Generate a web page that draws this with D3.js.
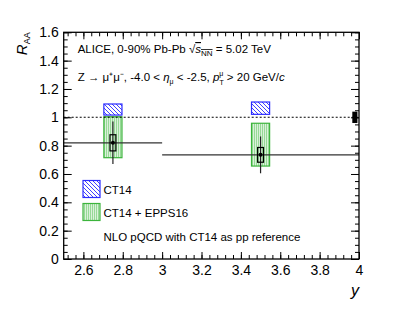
<!DOCTYPE html>
<html>
<head>
<meta charset="utf-8">
<script src="https://cdn.jsdelivr.net/npm/d3@7"></script>
<style>
  body { margin: 0; background: #fff; }
  svg { font-family: "Liberation Sans", Arial, sans-serif; }
</style>
</head>
<body>
<div id="chart"></div>
<script>
// data
var rapCenter = [2.75, 3.5];
var rapLow = [2.5, 3.0];
var rapHigh = [3.0, 4.0];
var raa = [0.82, 0.735];
var statErr = [0.15, 0.13];
var systErr = [0.057, 0.052];
var ct14Low = [1.016, 1.021];
var ct14High = [1.094, 1.108];
var eppsLow = [0.715, 0.656];
var eppsHigh = [1.004, 0.958];
var globalErr = 0.04;
var xTicks = [2.6, 2.8, 3, 3.2, 3.4, 3.6, 3.8, 4];
var yTicks = [0, 0.2, 0.4, 0.6, 0.8, 1, 1.2, 1.4, 1.6];

var width = 399, height = 309;
var svg = d3.select("#chart").append("svg")
  .attr("width", width).attr("height", height);

var x = d3.scaleLinear().domain([2.5, 4]).range([63.7, 359]);
var y = d3.scaleLinear().domain([0, 1.6]).range([259, 32.3]);

var blue = "#2b2bff", green = "#3cb43c";

var defs = svg.append("defs");
var hb = defs.append("pattern").attr("id", "hatchBlue")
  .attr("patternUnits", "userSpaceOnUse").attr("width", 4).attr("height", 4);
hb.append("rect").attr("width", 4).attr("height", 4).attr("fill", "#fff");
hb.append("path").attr("d", "M0,0L4,4M-1,3L1,5M3,-1L5,1")
  .attr("stroke", blue).attr("stroke-width", 0.9);

var hg = defs.append("pattern").attr("id", "hatchGreen")
  .attr("patternUnits", "userSpaceOnUse").attr("width", 2).attr("height", 3);
hg.append("rect").attr("width", 2).attr("height", 3).attr("fill", "#daf1da");
hg.append("rect").attr("x", 0).attr("width", 0.8).attr("height", 3).attr("fill", "#86d486");

var bw = 0.046; // half width of model boxes
var g = svg.append("g");

// CT14 boxes
g.selectAll(".ct14").data(rapCenter).enter().append("rect")
  .attr("x", function(d){ return x(d - bw); })
  .attr("width", function(d){ return x(d + bw) - x(d - bw); })
  .attr("y", function(d, i){ return y(ct14High[i]); })
  .attr("height", function(d, i){ return y(ct14Low[i]) - y(ct14High[i]); })
  .attr("fill", "url(#hatchBlue)").attr("stroke", blue).attr("stroke-width", 1.2);

// CT14 + EPPS16 boxes
g.selectAll(".epps").data(rapCenter).enter().append("rect")
  .attr("x", function(d){ return x(d - bw); })
  .attr("width", function(d){ return x(d + bw) - x(d - bw); })
  .attr("y", function(d, i){ return y(eppsHigh[i]); })
  .attr("height", function(d, i){ return y(eppsLow[i]) - y(eppsHigh[i]); })
  .attr("fill", "url(#hatchGreen)").attr("stroke", green).attr("stroke-width", 1.2);

// unity line
g.append("line")
  .attr("x1", x(2.5)).attr("x2", x(4)).attr("y1", y(1)).attr("y2", y(1))
  .attr("stroke", "#000").attr("stroke-width", 1.1).attr("stroke-dasharray", "2,2");

// bin width lines
g.selectAll(".bin").data(rapCenter).enter().append("line")
  .attr("x1", function(d, i){ return x(rapLow[i]); })
  .attr("x2", function(d, i){ return x(rapHigh[i]); })
  .attr("y1", function(d, i){ return y(raa[i]); })
  .attr("y2", function(d, i){ return y(raa[i]); })
  .attr("stroke", "#333").attr("stroke-width", 1.3);

// stat error bars
g.selectAll(".stat").data(rapCenter).enter().append("line")
  .attr("x1", function(d){ return x(d); }).attr("x2", function(d){ return x(d); })
  .attr("y1", function(d, i){ return y(raa[i] + statErr[i]); })
  .attr("y2", function(d, i){ return y(raa[i] - statErr[i]); })
  .attr("stroke", "#222").attr("stroke-width", 1.2);

// syst boxes
var sw = 0.015;
g.selectAll(".syst").data(rapCenter).enter().append("rect")
  .attr("x", function(d){ return x(d - sw); })
  .attr("width", function(d){ return x(d + sw) - x(d - sw); })
  .attr("y", function(d, i){ return y(raa[i] + systErr[i]); })
  .attr("height", function(d, i){ return y(raa[i] - systErr[i]) - y(raa[i] + systErr[i]); })
  .attr("fill", "none").attr("stroke", "#000").attr("stroke-width", 1.2);

g.selectAll(".pt").data(rapCenter).enter().append("circle")
  .attr("cx", function(d){ return x(d); })
  .attr("cy", function(d, i){ return y(raa[i]); })
  .attr("r", 2).attr("fill", "#000");

// global uncertainty
g.append("rect")
  .attr("x", x(3.966)).attr("width", x(3.992) - x(3.966))
  .attr("y", y(1 + globalErr)).attr("height", y(1 - globalErr) - y(1 + globalErr))
  .attr("fill", "#000");

// axes, ROOT style ticks inside
function minorTicks(lo, hi, step) {
  var t = [];
  for (var v = lo; v <= hi + 1e-9; v += step) t.push(+v.toFixed(3));
  return t;
}
var xMinor = minorTicks(2.52, 4, 0.04);
var yMinor = minorTicks(0, 1.6, 0.05);

function axisG(axis, tx, ty) {
  var a = svg.append("g").attr("transform", "translate(" + tx + "," + ty + ")").call(axis);
  a.select(".domain").remove();
  a.selectAll("line").attr("stroke", "#000").attr("stroke-width", 1);
  return a;
}

axisG(d3.axisBottom(x).tickValues(xMinor).tickSize(-4).tickFormat(""), 0, y(0));
axisG(d3.axisTop(x).tickValues(xMinor).tickSize(-4).tickFormat(""), 0, y(1.6));
axisG(d3.axisTop(x).tickValues(xTicks).tickSize(-7).tickFormat(""), 0, y(1.6));
var xa = axisG(d3.axisBottom(x).tickValues(xTicks).tickSize(-7).tickPadding(6)
  .tickFormat(function(d){ return d3.format("")(d); }), 0, y(0));
xa.selectAll("text").attr("font-size", "14px").attr("fill", "#000")
  .attr("font-family", "Liberation Sans, Arial, sans-serif");

axisG(d3.axisLeft(y).tickValues(yMinor).tickSize(-4).tickFormat(""), x(2.5), 0);
axisG(d3.axisRight(y).tickValues(yMinor).tickSize(-4).tickFormat(""), x(4), 0);
axisG(d3.axisRight(y).tickValues(yTicks).tickSize(-8).tickFormat(""), x(4), 0);
var ya = axisG(d3.axisLeft(y).tickValues(yTicks).tickSize(-8).tickPadding(5)
  .tickFormat(function(d){ return d3.format("")(d); }), x(2.5), 0);
ya.selectAll("text").attr("font-size", "14px").attr("fill", "#000")
  .attr("font-family", "Liberation Sans, Arial, sans-serif");

// frame
svg.append("rect")
  .attr("x", x(2.5)).attr("y", y(1.6))
  .attr("width", x(4) - x(2.5)).attr("height", y(0) - y(1.6))
  .attr("fill", "none").attr("stroke", "#000").attr("stroke-width", 1.3);

// axis titles
var yt = svg.append("text")
  .attr("transform", "translate(27," + y(1.6) + ") rotate(-90)")
  .attr("text-anchor", "end").attr("font-size", "15px");
yt.append("tspan").attr("font-style", "italic").text("R");
yt.append("tspan").attr("font-size", "9px").attr("dy", 3).text("AA");

svg.append("text").attr("x", x(4)).attr("y", 296)
  .attr("text-anchor", "end").attr("font-size", "16px").attr("font-style", "italic")
  .text("y");

// annotations
var fs = "11.5px";
var t1 = svg.append("text").attr("x", 77.7).attr("y", 53).attr("font-size", fs);
t1.append("tspan").text("ALICE, 0-90% Pb-Pb \u221A");
t1.append("tspan").attr("font-style", "italic").style("text-decoration", "overline").text("s");
t1.append("tspan").attr("font-size", "8px").attr("dy", 3).style("text-decoration", "overline").text("NN");
t1.append("tspan").attr("dy", -3).text(" = 5.02 TeV");

var t2 = svg.append("text").attr("x", 77.7).attr("y", 81).attr("font-size", fs);
t2.append("tspan").text("Z \u2192 \u03BC\u207A\u03BC\u207B, -4.0 < ");
t2.append("tspan").attr("font-style", "italic").text("\u03B7");
t2.append("tspan").attr("font-size", "7px").attr("dy", 3).text("\u03BC");
t2.append("tspan").attr("dy", -3).text(" < -2.5, ");
t2.append("tspan").attr("font-style", "italic").text("p");
t2.append("tspan").attr("font-size", "7px").attr("dy", -5).text("\u03BC");
t2.append("tspan").attr("font-size", "7px").attr("dx", -4).attr("dy", 9).text("T");
t2.append("tspan").attr("dy", -4).text(" > 20 GeV/");
t2.append("tspan").attr("font-style", "italic").text("c");

// legend
var legNames = ["CT14", "CT14 + EPPS16"];
var legFills = ["url(#hatchBlue)", "url(#hatchGreen)"];
var legStroke = [blue, green];
var legTop = [180.5, 203.5];
legNames.forEach(function(name, i) {
  svg.append("rect").attr("x", 83).attr("y", legTop[i]).attr("width", 17).attr("height", 17)
    .attr("fill", legFills[i]).attr("stroke", legStroke[i]).attr("stroke-width", 1.2);
  svg.append("text").attr("x", 103.5).attr("y", legTop[i] + 13).attr("font-size", fs).text(name);
});
svg.append("text").attr("x", 103.5).attr("y", 240.5).attr("font-size", fs)
  .text("NLO pQCD with CT14 as pp reference");
</script>
</body>
</html>
